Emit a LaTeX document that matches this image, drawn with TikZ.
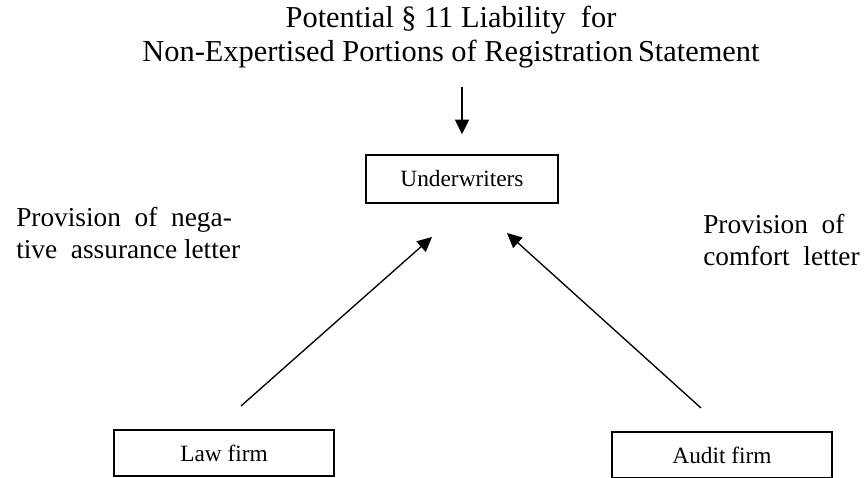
\documentclass[tikz,border=0pt]{standalone}
\usepackage{fontspec}
\setmainfont{Liberation Serif}
\usetikzlibrary{arrows.meta}

\begin{document}
\begin{tikzpicture}[x=0.75pt,y=-0.75pt,
		firm/.style={draw,line width=1.1pt,inner sep=0pt,minimum width=165pt,minimum height=34.5pt,font=\fontsize{17.5}{21}\selectfont},
		lbl/.style={align=left,inner sep=0pt,font=\fontsize{20.5}{24}\selectfont},
		arr/.style={-{Triangle[length=11pt,width=10.5pt]},line width=1pt}]
			%\draw [help lines] (0,0) grid (865,478);
			\useasboundingbox (0,0) rectangle (865,478);
			\node[align=center,inner sep=0pt,font=\fontsize{22.8}{25.5}\selectfont,anchor=base] (title) at (451,62) {Potential \S\ 11 Liability\ \ for\\Non-Expertised Portions of Registration\,Statement};
			\node[firm,minimum width=144pt,minimum height=36pt] (uw) at (462,179) {Underwriters};
			\node[firm] (law) at (224,453) {Law firm};
			\node[firm] (audit) at (722,455) {Audit firm};
			\node[lbl,anchor=base west] (neg) at (16,258) {Provision\ \ of\ \ nega-\\tive\ \ assurance\ letter};
			\node[lbl,anchor=base west] (comf) at (703,265) {Provision\ \ of\\comfort\ \ letter};
			\coordinate (lawtail) at (241,406);
			\coordinate (lawtip) at (432,237);
			\coordinate (audtail) at (701,408);
			\coordinate (audtip) at (507,233);
			\draw[arr,shorten <=13.5pt,shorten >=15pt] (title.south -| uw.north) -- (uw.north);
			\draw[arr] (lawtail) -- (lawtip);
			\draw[arr] (audtail) -- (audtip);
		\end{tikzpicture}
\end{document}
